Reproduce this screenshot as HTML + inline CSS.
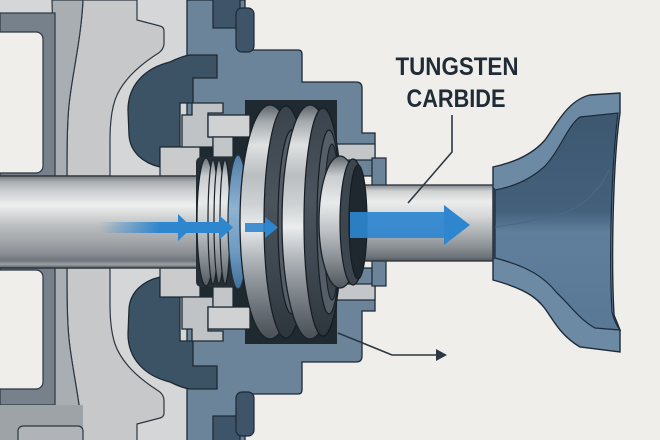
<!DOCTYPE html>
<html><head><meta charset="utf-8"><style>html,body{margin:0;padding:0;background:#efeeea}svg{display:block}</style></head>
<body>
<svg width="660" height="440" viewBox="0 0 660 440" xmlns="http://www.w3.org/2000/svg" xmlns:xlink="http://www.w3.org/1999/xlink">
<defs>
<linearGradient id="shaftL" x1="0" y1="176" x2="0" y2="268" gradientUnits="userSpaceOnUse">
<stop offset="0" stop-color="#6f757a"/><stop offset="0.06" stop-color="#a9adb0"/><stop offset="0.16" stop-color="#cbcdcf"/><stop offset="0.32" stop-color="#efefef"/><stop offset="0.4" stop-color="#dcdddd"/><stop offset="0.55" stop-color="#b9bcbe"/><stop offset="0.7" stop-color="#a4a8ab"/><stop offset="0.84" stop-color="#8a8f94"/><stop offset="0.92" stop-color="#6f757a"/><stop offset="0.96" stop-color="#9aa0a4"/><stop offset="1" stop-color="#555c62"/>
</linearGradient>
<linearGradient id="shaftR" x1="0" y1="185" x2="0" y2="261" gradientUnits="userSpaceOnUse">
<stop offset="0" stop-color="#80868b"/><stop offset="0.08" stop-color="#cfd1d2"/><stop offset="0.22" stop-color="#ecedec"/><stop offset="0.4" stop-color="#d6d8d9"/><stop offset="0.6" stop-color="#b2b6b9"/><stop offset="0.8" stop-color="#8e9398"/><stop offset="0.95" stop-color="#6c7277"/><stop offset="1" stop-color="#4f565c"/>
</linearGradient>
<linearGradient id="metal" x1="0" y1="105" x2="0" y2="340" gradientUnits="userSpaceOnUse">
<stop offset="0" stop-color="#5c636a"/><stop offset="0.07" stop-color="#a3a9ad"/><stop offset="0.17" stop-color="#dfe1e2"/><stop offset="0.3" stop-color="#b9bec1"/><stop offset="0.42" stop-color="#cdd1d3"/><stop offset="0.52" stop-color="#eaeced"/><stop offset="0.64" stop-color="#b6bbbf"/><stop offset="0.76" stop-color="#8a9197"/><stop offset="0.88" stop-color="#666d74"/><stop offset="1" stop-color="#474e54"/>
</linearGradient>
<linearGradient id="metal2" x1="0" y1="156" x2="0" y2="290" gradientUnits="userSpaceOnUse">
<stop offset="0" stop-color="#5e656b"/><stop offset="0.15" stop-color="#c9cdd0"/><stop offset="0.35" stop-color="#e8eaea"/><stop offset="0.55" stop-color="#c0c4c7"/><stop offset="0.75" stop-color="#8d9399"/><stop offset="1" stop-color="#4a5157"/>
</linearGradient>
<linearGradient id="face" x1="0" y1="105" x2="0" y2="340" gradientUnits="userSpaceOnUse">
<stop offset="0" stop-color="#3a434b"/><stop offset="0.4" stop-color="#4b545c"/><stop offset="0.7" stop-color="#3e474f"/><stop offset="1" stop-color="#2d353c"/>
</linearGradient>
<linearGradient id="bluedisc" x1="0" y1="155" x2="0" y2="290" gradientUnits="userSpaceOnUse">
<stop offset="0" stop-color="#4f7ea8"/><stop offset="0.4" stop-color="#8fb2d1"/><stop offset="0.7" stop-color="#6f9cc3"/><stop offset="1" stop-color="#426f98"/>
</linearGradient>
<linearGradient id="arrowFade" x1="100" y1="0" x2="160" y2="0" gradientUnits="userSpaceOnUse">
<stop offset="0" stop-color="#2e86cf" stop-opacity="0"/><stop offset="1" stop-color="#2e86cf" stop-opacity="1"/>
</linearGradient>
<linearGradient id="impIn" x1="0" y1="0" x2="0" y2="1">
<stop offset="0" stop-color="#3d5770"/><stop offset="0.45" stop-color="#44607b"/><stop offset="0.55" stop-color="#5f7f9c"/><stop offset="1" stop-color="#587896"/>
</linearGradient>
</defs>

<rect width="660" height="440" fill="#efeeea"/>

<g id="half">
  <rect x="0" y="0" width="190" height="176" fill="#d5d6d7"/>
  <path d="M83,0 H137 V20 L160,26 Q164,27 164,31 V43 Q164,50 157,54 C140,65 122,80 115,100 C111,112 110,125 110,140 V176 H67 C67,150 67,125 69,105 C72,75 81,40 83,0 Z" fill="#c6c8ca" stroke="#2c3640" stroke-width="1.2"/>
  <path d="M52,0 H83 C81,40 72,75 69,105 C67,125 67,150 67,176 H40 C40,140 42,115 47,95 C51,78 53,60 53,40 Z" fill="#a9aeb2" stroke="#2c3640" stroke-width="1.2"/>
  <path d="M187,0 H245 V50 H298 Q302,50 302,54 V82 H356 Q362,82 362,88 V133 H375 V176 H187 Z" fill="#6b8499" stroke="#1d2833" stroke-width="1.3"/>
  <rect x="213" y="-2" width="27" height="30" fill="#3e5468" stroke="#1d2833" stroke-width="1.2"/>
  <rect x="236" y="8" width="18" height="44" rx="6" fill="#3e5468" stroke="#1d2833" stroke-width="1.2"/>
  <path d="M217,55 V78 H193 V103 H180 V147 H160 V167 C143,163 130,152 129,135 L128,110 C128,85 145,68 170,62 C178,58 183,56 190,55 Z" fill="#3c5366" stroke="#1d2833" stroke-width="1.3"/>
  <rect x="245" y="100" width="92" height="76" fill="#1f2930"/>
  <rect x="195" y="135" width="55" height="41" fill="#1f2930"/>
  <rect x="160" y="147" width="40" height="29" fill="#c9cbcd" stroke="#1d2833" stroke-width="1.2"/>
  <path d="M192,103 H223 V113 H208 V137 H213 V147 H182 V115 H192 Z" fill="#bfc3c6" stroke="#1d2833" stroke-width="1.3"/>
  <rect x="208" y="115" width="42" height="22" fill="#cfd1d3" stroke="#1d2833" stroke-width="1.3"/>
  <rect x="213" y="137" width="20" height="20" fill="#c3c6c9" stroke="#1d2833" stroke-width="1.2"/>
  <rect x="333" y="144" width="42" height="16" fill="#c4c7ca" stroke="#1d2833" stroke-width="1.2"/>
  <rect x="372" y="158" width="14" height="28" fill="#6b8499" stroke="#1d2833" stroke-width="1.2"/>
</g>
<use xlink:href="#half" href="#half" transform="matrix(1 0 0 -1 0 444)"/>

<!-- left band/windows -->
<rect x="0" y="13" width="55" height="163" fill="#76818b" stroke="#2c3640" stroke-width="1.2"/>
<rect x="-10" y="32" width="53" height="141" rx="7" fill="#efeeea" stroke="#2c3640" stroke-width="1.2"/>
<rect x="0" y="268" width="55" height="137" fill="#76818b" stroke="#2c3640" stroke-width="1.2"/>
<rect x="-10" y="270" width="53" height="119" rx="7" fill="#efeeea" stroke="#2c3640" stroke-width="1.2"/>
<rect x="0" y="405" width="83" height="40" fill="#9ea3a7"/>
<rect x="18" y="426" width="65" height="20" rx="5" fill="#b0b4b8" stroke="#2c3640" stroke-width="1.2"/>

<!-- left shaft -->
<rect x="-2" y="176" width="204" height="92" fill="url(#shaftL)" stroke="#2a3138" stroke-width="1.3"/>
<rect x="245" y="175" width="92" height="94" fill="#1f2930"/>

<!-- spring -->
<rect x="196" y="157" width="42" height="130" rx="5" fill="#262e36"/>
<ellipse cx="206" cy="222" rx="9" ry="64" fill="url(#metal2)" stroke="#1a2127" stroke-width="1.2"/>
<ellipse cx="213" cy="222" rx="5" ry="62" fill="url(#metal2)" stroke="#1a2127" stroke-width="1.2"/>
<ellipse cx="219" cy="222" rx="5" ry="62" fill="url(#metal2)" stroke="#1a2127" stroke-width="1.2"/>
<ellipse cx="225" cy="222" rx="5" ry="62" fill="url(#metal2)" stroke="#1a2127" stroke-width="1.2"/>
<ellipse cx="238" cy="222" rx="10" ry="67" fill="url(#bluedisc)" stroke="#22313e" stroke-width="1.2"/>

<!-- ring 1 -->
<ellipse cx="270" cy="222" rx="30" ry="117" fill="url(#metal)" stroke="#1a2127" stroke-width="1.3"/>
<ellipse cx="286" cy="222" rx="22" ry="116" fill="url(#face)" stroke="#161d23" stroke-width="1.2"/>
<ellipse cx="292" cy="222" rx="14" ry="92" fill="#555e66" stroke="#161d23" stroke-width="1.2"/>
<ellipse cx="296" cy="222" rx="9" ry="78" fill="#3b444c" stroke="#161d23" stroke-width="1"/>
<!-- ring 2 -->
<ellipse cx="310" cy="222" rx="28" ry="117" fill="url(#metal)" stroke="#1a2127" stroke-width="1.3"/>
<ellipse cx="323" cy="222" rx="19" ry="114" fill="url(#face)" stroke="#161d23" stroke-width="1.2"/>
<ellipse cx="329" cy="222" rx="12" ry="92" fill="#555e66" stroke="#161d23" stroke-width="1.2"/>
<ellipse cx="332" cy="222" rx="8" ry="78" fill="#3b444c" stroke="#161d23" stroke-width="1"/>

<!-- right shaft -->
<rect x="360" y="185" width="135" height="76" fill="url(#shaftR)" stroke="#2a3138" stroke-width="1.3"/>

<!-- sleeve -->
<ellipse cx="340" cy="222" rx="21" ry="66" fill="url(#metal2)" stroke="#1a2127" stroke-width="1.3"/>
<ellipse cx="353" cy="222" rx="13" ry="63" fill="#3d464e" stroke="#161d23" stroke-width="1.2"/>
<ellipse cx="358" cy="222" rx="9" ry="57" fill="#20282f" stroke="#161d23" stroke-width="1.2"/>

<!-- impeller -->
<path d="M493,167 C512,163 532,155 545,140 C556,125 568,100 590,95 L620,93 V113 C613,160 611,260 614,315 L620,330 V352 L580,347 C565,338 558,328 550,316 C540,300 530,290 493,280 Z" fill="#6d8aa5" stroke="#1d2b38" stroke-width="1.4"/>
<path d="M495,190 C512,187 530,180 545,166 C560,150 568,125 580,117 L618,113 C611,170 609,260 612,312 C614,320 616,325 620,330 L595,328 C580,320 570,305 557,293 C545,278 530,267 495,258 Z" fill="url(#impIn)" stroke="#1d2b38" stroke-width="1.2"/>
<path d="M495,227 C530,222 560,216 575,208 C592,198 602,185 609,170" fill="none" stroke="#4b6884" stroke-width="1"/>
<line x1="494" y1="188" x2="494" y2="259" stroke="#2a3a4a" stroke-width="2"/>

<!-- arrows -->
<rect x="100" y="222" width="122" height="11" fill="url(#arrowFade)"/>
<polygon points="178,214 192,227.5 178,241" fill="#2e86cf"/>
<polygon points="220,216 233,227.5 220,239" fill="#2e86cf"/>
<rect x="245" y="223" width="21" height="9" fill="#2e86cf" opacity="0.9"/>
<polygon points="265,217 278,227.5 265,238" fill="#2e86cf"/>
<rect x="350" y="212" width="96" height="26" fill="#2e86cf" opacity="0.92"/>
<polygon points="444,205 470,225 444,245" fill="#2e86cf"/>

<!-- label -->
<text x="457" y="75" text-anchor="middle" font-family="Liberation Sans, Arial, sans-serif" font-weight="bold" font-size="25" fill="#1f2b36" textLength="123" lengthAdjust="spacingAndGlyphs">TUNGSTEN</text>
<text x="456" y="107" text-anchor="middle" font-family="Liberation Sans, Arial, sans-serif" font-weight="bold" font-size="25" fill="#1f2b36" textLength="99" lengthAdjust="spacingAndGlyphs">CARBIDE</text>
<polyline points="452,115 452,152 408,203" fill="none" stroke="#2b3743" stroke-width="1.6"/>

<polyline points="338,333 392,355 437,355" fill="none" stroke="#2b3743" stroke-width="1.6"/>
<polygon points="436,349 447,355 436,361" fill="#2b3743"/>
</svg>
</body></html>
